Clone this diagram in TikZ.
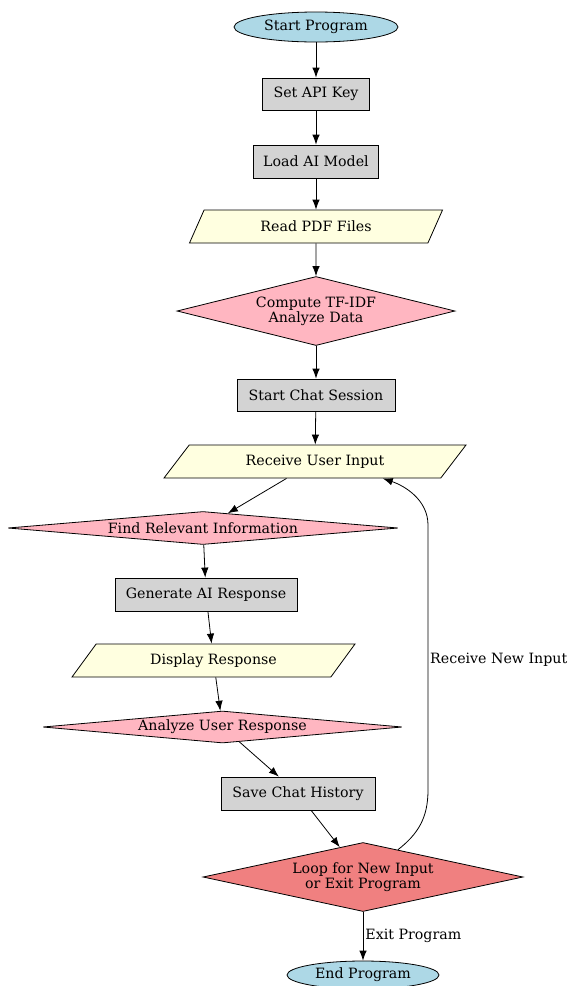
\documentclass[tikz,border=0pt]{standalone}
\usepackage{fontspec}
\setmainfont{DejaVu Serif}
\usetikzlibrary{shapes.geometric,arrows.meta}

\definecolor{lblue}{HTML}{ADD8E6}
\definecolor{lgray}{HTML}{D3D3D3}
\definecolor{lyellow}{HTML}{FFFFE0}
\definecolor{lpink}{HTML}{FFB6C1}
\definecolor{lcoral}{HTML}{F08080}

\begin{document}
\begin{tikzpicture}[
  x=1pt, y=-1pt,
  every node/.style={font=\fontsize{14.2}{15}\selectfont, inner sep=0pt, align=center},
  term/.style={draw, line width=0.8pt, ellipse, fill=lblue, minimum height=30pt},
  proc/.style={draw, line width=0.8pt, rectangle, fill=lgray, minimum height=33pt},
  io/.style={draw, line width=0.8pt, trapezium, trapezium stretches body, fill=lyellow, minimum height=33pt},
  dec/.style={draw, line width=0.8pt, diamond, fill=lpink, aspect=12},
  arr/.style={-{Latex[length=10pt,width=7.5pt]}, line width=0.8pt},
  lab/.style={anchor=west}
]
\useasboundingbox (0,0) rectangle (570,986);

\node[term, minimum width=164pt] (start) at (316,27) {Start Program};
\node[proc, minimum width=107pt, minimum height=32pt] (key) at (316,94) {Set API Key};
\node[proc, minimum width=125pt] (model) at (316,161.5) {Load AI Model};
\node[io, minimum width=253pt, trapezium left angle=37, trapezium right angle=143] (pdf) at (316,226.5) {Read PDF Files};
\node[dec, aspect=4, minimum width=278pt, minimum height=69pt] (tfidf) at (316,311) {Compute TF-IDF\\Analyze Data};
\node[proc, minimum width=158pt, minimum height=32pt] (chat) at (316,395) {Start Chat Session};
\node[io, minimum width=302pt, trapezium left angle=28, trapezium right angle=152] (input) at (315,461.5) {Receive User Input};
\node[dec, minimum width=390pt, minimum height=33pt] (find) at (203,528) {Find Relevant Information};
\node[proc, minimum width=182pt] (gen) at (206,594.5) {Generate AI Response};
\node[io, minimum width=283pt, trapezium left angle=30, trapezium right angle=150] (show) at (213.5,660.5) {Display Response};
\node[dec, minimum width=359pt, minimum height=32pt] (judge) at (222.5,727) {Analyze User Response};
\node[proc, minimum width=154pt] (save) at (298,793.5) {Save Chat History};
\node[dec, aspect=4.5, fill=lcoral, minimum width=320pt, minimum height=69pt] (choice) at (363,877) {Loop for New Input\\or Exit Program};
\node[term, minimum width=152pt, minimum height=28pt] (stop) at (363,975) {End Program};

\draw[arr] (start) -- (key);
\draw[arr] (key) -- (model);
\draw[arr] (model) -- (pdf);
\draw[arr] (pdf) -- (tfidf);
\draw[arr] (tfidf) -- (chat);
\draw[arr] (chat) -- (input);
\draw[arr] (input) -- (find);
\draw[arr] (find) -- (gen);
\draw[arr] (gen) -- (show);
\draw[arr] (show) -- (judge);
\draw[arr] (judge) -- (save);
\draw[arr] (save) -- (choice);
\draw[arr] (choice.38) .. controls (418,834) and (428,818) .. (428,790)
  -- (428,525) .. controls (428,500) and (405,486) .. (input.-14);
\node[lab] (newlab) at (430,660) {Receive New Input};
\draw[arr] (choice) -- node[lab, xshift=2pt] {Exit Program} (stop);
\end{tikzpicture}
\end{document}
